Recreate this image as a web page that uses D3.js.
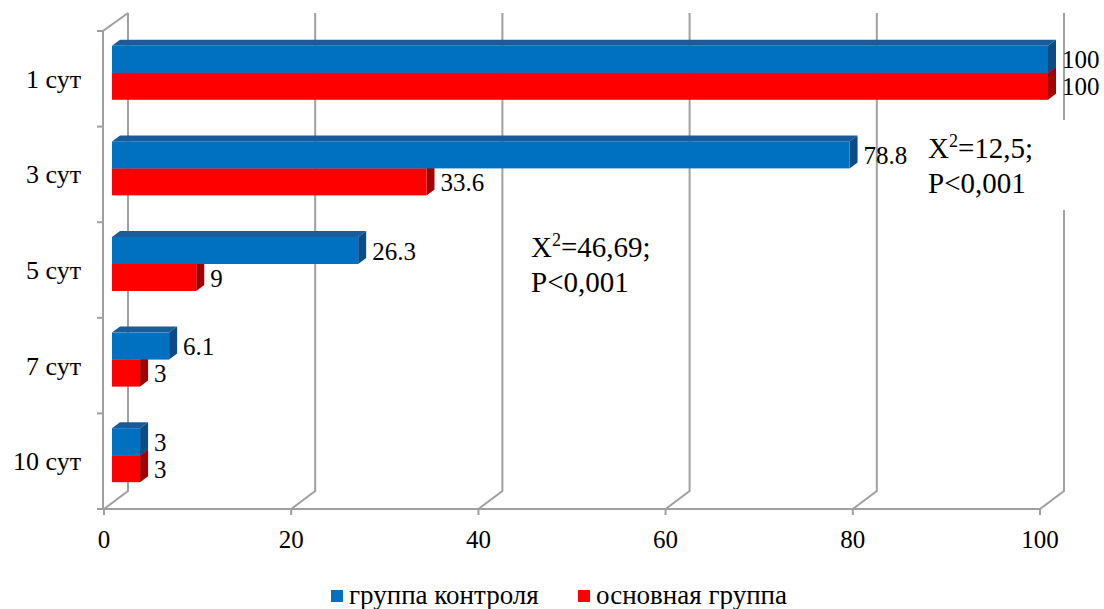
<!DOCTYPE html>
<html>
<head>
<meta charset="utf-8">
<script src="https://cdn.jsdelivr.net/npm/d3@7"></script>
<style>
  body { margin: 0; background: #fff; }
  text { font-family: "Liberation Serif", "DejaVu Serif", serif; fill: #000; }
</style>
</head>
<body>
<div id="chart"></div>
<script>
const categories = ["1 сут", "3 сут", "5 сут", "7 сут", "10 сут"];
const controlGroup = [100, 78.8, 26.3, 6.1, 3];
const mainGroup = [100, 33.6, 9, 3, 3];
const xTicks = [0, 20, 40, 60, 80, 100];
const seriesNames = ["группа контроля", "основная группа"];

function init() {
    const width = 1104, height = 609;
    const svg = d3.select('#chart').append('svg')
        .attr('width', width)
        .attr('height', height);

    // front plane of the floor
    const xScale = d3.scaleLinear().domain([0, 100]).range([104, 1040]);
    const yScale = d3.scaleBand().domain(categories).range([31, 509]);
    const wallDx = 24, wallDy = -18;   // back wall offset
    const barDx = 8, barDy = -6;       // bar depth
    const barShift = 8;                // bars sit a bit inside the box
    const barH = 27;
    const floorY = 509, topY = 31 + wallDy;
    const gridColor = "#a0a0a0";

    // gridlines: back wall vertical + diagonal on the floor
    svg.selectAll('.grid')
        .data(xTicks)
        .join('path')
        .attr('class', 'grid')
        .attr('fill', 'none')
        .attr('stroke', gridColor)
        .attr('stroke-width', 2)
        .attr('d', d => `M${xScale(d) + wallDx},${topY} L${xScale(d) + wallDx},${floorY + wallDy} L${xScale(d)},${floorY}`);

    // left wall
    svg.append('path')
        .attr('fill', 'none')
        .attr('stroke', gridColor)
        .attr('stroke-width', 2)
        .attr('d', `M${xScale(0) - 1},${floorY} L${xScale(0) - 1},31 L${xScale(0) + wallDx},${topY}`);

    // floor front edge
    svg.append('line')
        .attr('x1', xScale(0) - 1).attr('x2', xScale(100))
        .attr('y1', floorY).attr('y2', floorY)
        .attr('stroke', gridColor).attr('stroke-width', 2);

    // x ticks
    svg.selectAll('.xtick')
        .data(xTicks)
        .join('line')
        .attr('x1', d => xScale(d)).attr('x2', d => xScale(d))
        .attr('y1', floorY).attr('y2', floorY + 6)
        .attr('stroke', gridColor).attr('stroke-width', 2);

    // y ticks at band boundaries
    const bounds = categories.map(c => yScale(c)).concat([yScale(categories[categories.length - 1]) + yScale.bandwidth()]);
    svg.selectAll('.ytick')
        .data(bounds)
        .join('line')
        .attr('x1', xScale(0) - 7).attr('x2', xScale(0) - 1)
        .attr('y1', d => d).attr('y2', d => d)
        .attr('stroke', gridColor).attr('stroke-width', 2);

    // tick labels
    svg.selectAll('.xlabel')
        .data(xTicks)
        .join('text')
        .attr('x', d => xScale(d))
        .attr('y', 548)
        .attr('text-anchor', 'middle')
        .style('font-size', '25px')
        .text(d => d);

    svg.selectAll('.ylabel')
        .data(categories)
        .join('text')
        .attr('x', 81)
        .attr('y', d => yScale(d) + yScale.bandwidth() / 2 + 9)
        .attr('text-anchor', 'end')
        .style('font-size', '26px')
        .text(d => d);

    const annot = svg.append('g');

    // bars
    const bx = v => xScale(v) + barShift;
    const series = [
        {values: controlGroup, front: "#0070C0", top: "#1a5c99", side: "#0b4c86", offset: -barH},
        {values: mainGroup, front: "#FF0000", top: "#c00000", side: "#a00000", offset: 0}
    ];

    categories.forEach((cat, i) => {
        const cy = yScale(cat) + yScale.bandwidth() / 2 - 6;
        // draw red first, then blue on top of it
        [series[1], series[0]].forEach(s => {
            const v = s.values[i];
            const x0 = bx(0), x1 = bx(v);
            const y0 = cy + s.offset, y1 = y0 + barH;
            const g = svg.append('g');
            g.append('path')
                .attr('d', `M${x0},${y0} L${x0 + barDx},${y0 + barDy} L${x1 + barDx},${y0 + barDy} L${x1},${y0} Z`)
                .attr('fill', s.top);
            g.append('path')
                .attr('d', `M${x1},${y0} L${x1 + barDx},${y0 + barDy} L${x1 + barDx},${y1 + barDy} L${x1},${y1} Z`)
                .attr('fill', s.side);
            g.append('rect')
                .attr('x', x0).attr('y', y0)
                .attr('width', x1 - x0).attr('height', barH)
                .attr('fill', s.front);
            g.append('text')
                .attr('x', x1 + barDx + 6)
                .attr('y', y0 + barH / 2 + 9)
                .style('font-size', '25px')
                .text(v);
        });
    });

    // annotations
    function addAnnotation(x, y, chi) {
        const t = annot.append('text').attr('x', x).attr('y', y).style('font-size', '29px');
        t.append('tspan').text('X');
        t.append('tspan').attr('dy', -11).style('font-size', '18px').text('2');
        t.append('tspan').attr('dy', 11).text('=' + chi + ';');
        annot.append('text').attr('x', x).attr('y', y + 35).style('font-size', '29px').text('P<0,001');
    }
    // white box behind the second annotation hides the gridline
    annot.append('rect')
        .attr('x', 918).attr('y', 120)
        .attr('width', 150).attr('height', 90)
        .attr('fill', '#fff');
    addAnnotation(531, 257, '46,69');
    addAnnotation(928, 158, '12,5');
    annot.raise();

    // legend
    const legendX = [331, 578];
    const legendColors = ["#0070C0", "#FF0000"];
    svg.selectAll('.legRect')
        .data(seriesNames)
        .join('rect')
        .attr('x', (d, i) => legendX[i])
        .attr('y', 590)
        .attr('width', 12).attr('height', 12)
        .attr('fill', (d, i) => legendColors[i]);
    svg.selectAll('.legText')
        .data(seriesNames)
        .join('text')
        .attr('x', (d, i) => legendX[i] + 18)
        .attr('y', 604)
        .style('font-size', '27px')
        .text(d => d);
}

window.addEventListener('load', init);
</script>
</body>
</html>
